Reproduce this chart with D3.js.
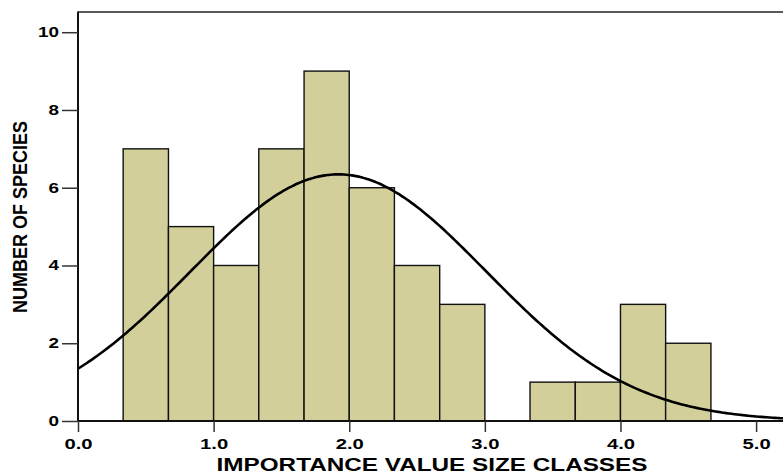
<!DOCTYPE html>
<html>
<head>
<meta charset="utf-8">
<script src="https://cdn.jsdelivr.net/npm/d3@7"></script>
<style>
  html, body { margin: 0; padding: 0; background: #fff; }
  svg { display: block; font-family: "Liberation Sans", Arial, sans-serif; }
</style>
</head>
<body>
<svg id="chart" width="783" height="475"></svg>
<script>
// Histogram bins (class lower bound, upper bound) and species counts
const binStarts = [0.333, 0.667, 1.0, 1.333, 1.667, 2.0, 2.333, 2.667, 3.0, 3.333, 3.667, 4.0, 4.333];
const binEnds   = [0.667, 1.0, 1.333, 1.667, 2.0, 2.333, 2.667, 3.0, 3.333, 3.667, 4.0, 4.333, 4.667];
const counts    = [7, 5, 4, 7, 9, 6, 4, 3, 0, 1, 1, 3, 2];

// Fitted normal curve parameters
const fitMean = 1.92;
const fitSd = 1.09;
const fitN = 52;
const binWidth = 1 / 3;

// Axis ticks
const xTicks = [0, 1, 2, 3, 4, 5];
const yTicks = [0, 2, 4, 6, 8, 10];

const svg = d3.select("#chart");
const plotLeft = 78, plotRight = 790, plotTop = 12, plotBottom = 421;
const wide = 1.35; // horizontal stretch of the lettering

const x = d3.scaleLinear().domain([0, 5.25]).range([plotLeft, plotRight]);
const y = d3.scaleLinear().domain([0, 10.52]).range([plotBottom, plotTop]);

// Frame
svg.append("rect")
  .attr("x", plotLeft).attr("y", plotTop)
  .attr("width", plotRight - plotLeft).attr("height", plotBottom - plotTop)
  .attr("fill", "none").attr("stroke", "#222").attr("stroke-width", 1.5);

// Bars
const bins = counts.map((c, i) => ({ x0: binStarts[i], x1: binEnds[i], n: c }));
svg.append("g").selectAll("rect")
  .data(bins.filter(d => d.n > 0))
  .join("rect")
  .attr("x", d => x(d.x0))
  .attr("y", d => y(d.n))
  .attr("width", d => x(d.x1) - x(d.x0))
  .attr("height", d => y(0) - y(d.n))
  .attr("fill", "#d3cf9b")
  .attr("stroke", "#111")
  .attr("stroke-width", 1.4);

// Normal curve scaled to counts
const normal = v => fitN * binWidth / (fitSd * Math.sqrt(2 * Math.PI)) *
  Math.exp(-((v - fitMean) ** 2) / (2 * fitSd * fitSd));
const curveX = d3.range(0, 5.26, 0.02);
svg.append("path")
  .datum(curveX)
  .attr("fill", "none")
  .attr("stroke", "#000")
  .attr("stroke-width", 2.6)
  .attr("d", d3.line().x(d => x(d)).y(d => y(normal(d))).curve(d3.curveBasis));

// Axes
const xAxis = svg.append("g")
  .attr("transform", `translate(0,${plotBottom})`)
  .call(d3.axisBottom(x).tickValues(xTicks).tickFormat(d3.format(".1f")).tickSize(11).tickPadding(6));
const yAxis = svg.append("g")
  .attr("transform", `translate(${plotLeft},0)`)
  .call(d3.axisLeft(y).tickValues(yTicks).tickSize(16).tickPadding(3));

[xAxis, yAxis].forEach(g => {
  g.select(".domain").attr("stroke", "#111").attr("stroke-width", 2);
  g.selectAll(".tick line").attr("stroke", "#333").attr("stroke-width", 1.5);
  g.selectAll(".tick text")
    .attr("fill", "#000")
    .style("font-weight", "bold")
    .style("font-family", "'Liberation Sans', Arial, sans-serif");
});
xAxis.selectAll(".tick text")
  .style("font-size", "15px")
  .attr("transform", `scale(${wide},1)`);
yAxis.selectAll(".tick text")
  .style("font-size", "14px")
  .attr("x", -19 / wide)
  .attr("transform", `scale(${wide},1)`);
xAxis.select(".domain").attr("d", `M${plotLeft},0H${plotRight}`);
yAxis.select(".domain").attr("d", `M0,${plotBottom}V${plotTop}`);

// Axis titles
svg.append("text")
  .attr("transform", `translate(432,471) scale(${wide},1)`)
  .attr("text-anchor", "middle")
  .style("font-size", "18px").style("font-weight", "bold")
  .text("IMPORTANCE VALUE SIZE CLASSES");

svg.append("text")
  .attr("transform", "translate(27,217) rotate(-90) scale(1,1.08)")
  .attr("text-anchor", "middle")
  .style("font-size", "18px").style("font-weight", "bold")
  .text("NUMBER OF SPECIES");
</script>
</body>
</html>
